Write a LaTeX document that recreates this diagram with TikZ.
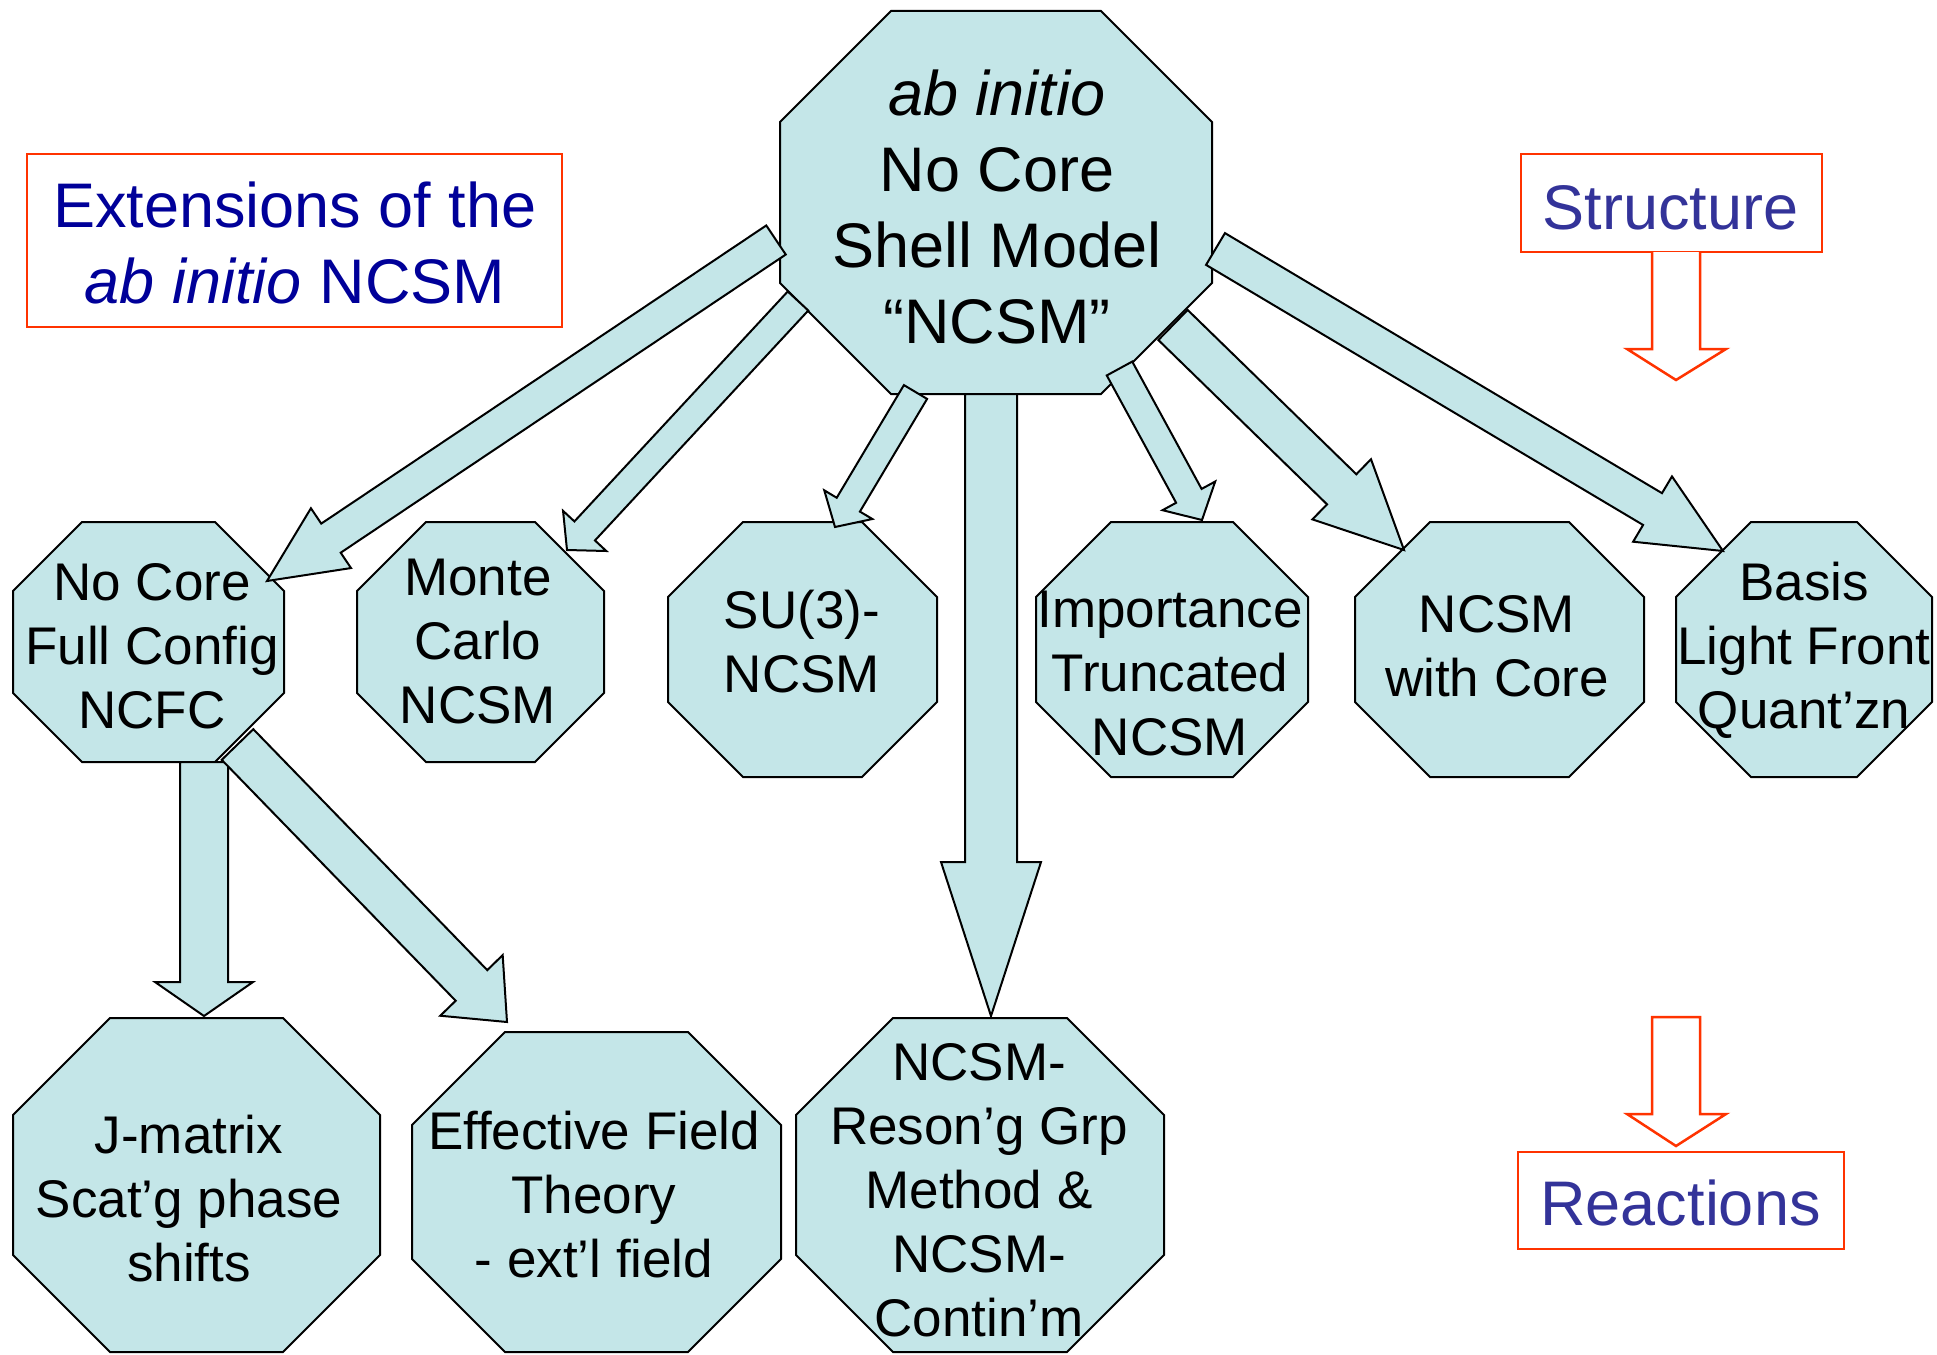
\documentclass[tikz,border=0pt]{standalone}
\usepackage{fontspec}
\setmainfont{Liberation Sans}
\usetikzlibrary{calc}
\definecolor{octfill}{HTML}{C4E6E8}
\definecolor{navyt}{HTML}{000099}
\definecolor{slatet}{HTML}{333399}
\definecolor{redline}{HTML}{FF3300}
\tikzset{
  octo/.style={draw=black, fill=octfill, line width=2pt, line join=miter},
  barrow/.style={draw=black, fill=octfill, line width=2pt, line join=miter},
  redarrow/.style={draw=redline, fill=white, line width=2.5pt, line join=miter},
  redbox/.style={draw=redline, line width=2.5pt, inner sep=0pt},
  bigtxt/.style={font=\fontsize{63}{76}\selectfont, align=center, inner sep=0pt},
  midtxt/.style={font=\fontsize{53}{64}\selectfont, align=center, inner sep=0pt},
}
\newcommand\octa[5]{%
  \draw[octo] ({#1+#5},#2) -- ({#3-#5},#2) -- (#3,{#2+#5}) -- (#3,{#4-#5})
    -- ({#3-#5},#4) -- ({#1+#5},#4) -- (#1,{#4-#5}) -- (#1,{#2+#5}) -- cycle;}
\newcommand\blockarrow[5]{%
  \coordinate (bah) at ($(#2)!#5!(#1)$);
  \draw[barrow] ($(#1)!#3!90:(#2)$) -- ($(bah)!#3!90:(#2)$) -- ($(bah)!#4!90:(#2)$)
    -- (#2) -- ($(bah)!#4!-90:(#2)$) -- ($(bah)!#3!-90:(#2)$) -- ($(#1)!#3!-90:(#2)$) -- cycle;}
\begin{document}
\begin{tikzpicture}[x=1pt,y=-1pt]
\useasboundingbox (0,0) rectangle (1937,1354);
% octagons
\octa{780}{11}{1212}{394}{111}
\octa{13}{522}{284}{762}{69}
\octa{357}{522}{604}{762}{69}
\octa{668}{522}{937}{777}{75}
\octa{1036}{522}{1308}{777}{75}
\octa{1355}{522}{1644}{777}{75}
\octa{1676}{522}{1932}{777}{75}
\octa{13}{1018}{380}{1352}{97}
\octa{412}{1032}{781}{1352}{93}
\octa{796}{1018}{1164}{1352}{97}
% arrow end points
\coordinate (t1) at (776,240);   \coordinate (h1) at (267,581);
\coordinate (t2) at (798,301);   \coordinate (h2) at (567,550);
\coordinate (t3) at (915.5,392); \coordinate (h3) at (835,527);
\coordinate (t4) at (991,394);   \coordinate (h4) at (991,1016);
\coordinate (t5) at (1119.5,368.5); \coordinate (h5) at (1202,520);
\coordinate (t6) at (1173,325);  \coordinate (h6) at (1404,550);
\coordinate (t7) at (1215.5,249); \coordinate (h7) at (1723,551);
\coordinate (t8) at (204,762);   \coordinate (h8) at (204,1016);
\coordinate (t9) at (237.5,744.5); \coordinate (h9) at (507,1022);
\blockarrow{t1}{h1}{17.5pt}{36pt}{77pt}
\blockarrow{t2}{h2}{14pt}{29.5pt}{26pt}
\blockarrow{t3}{h3}{13.5pt}{28pt}{26pt}
\blockarrow{t4}{h4}{26pt}{50pt}{154pt}
\blockarrow{t5}{h5}{14.5pt}{30pt}{27.5pt}
\blockarrow{t6}{h6}{21pt}{42pt}{87pt}
\blockarrow{t7}{h7}{18.5pt}{38pt}{82pt}
\blockarrow{t8}{h8}{24pt}{49pt}{34pt}
\blockarrow{t9}{h9}{22pt}{43.5pt}{51pt}
% texts in octagons (base anchor = last line's baseline)
\node[bigtxt, anchor=base] (top) at (997,343) {\textit{ab initio}\\No Core\\Shell Model\\“NCSM”};
\node[midtxt, anchor=base] (ncfc) at (152,728) {No Core\\Full Config\\NCFC};
\node[midtxt, anchor=base] (mc) at (478,723) {Monte\\Carlo\\NCSM};
\node[midtxt, anchor=base] (su3) at (802,692) {SU(3)-\\NCSM};
\node[midtxt, anchor=base] (itn) at (1170,755) {Importance\\Truncated\\NCSM};
\node[midtxt, anchor=base] (wc) at (1497,696) {NCSM\\with Core};
\node[midtxt, anchor=base] (lf) at (1804,728) {Basis\\Light Front\\Quant’zn};
\node[midtxt, anchor=base] (jm) at (189,1281) {J-matrix\\Scat’g phase\\shifts};
\node[midtxt, anchor=base] (eft) at (594,1277) {Effective Field\\Theory\\- ext’l field};
\node[midtxt, anchor=base] (rgm) at (979,1336) {NCSM-\\Reson’g Grp\\Method \&\\NCSM-\\Contin’m};
% labelled boxes
\node[redbox, minimum width=535pt, minimum height=173pt] (extbox) at (294.5,240.5) {};
\node[bigtxt, text=navyt, anchor=base] (ext) at (295,303) {Extensions of the\\\textit{ab initio} NCSM};
\node[redbox, minimum width=301pt, minimum height=98pt] (strbox) at (1671.5,203) {};
\node[bigtxt, text=slatet, anchor=base] (str) at (1670.5,229) {Structure};
\node[redbox, minimum width=326pt, minimum height=97pt] (reabox) at (1681,1200.5) {};
\node[bigtxt, text=slatet, anchor=base] (rea) at (1680.5,1225) {Reactions};
% red arrows
\coordinate (stip) at (1676,380);
\coordinate (rtip) at (1676,1146);
\draw[redarrow] (1652,252) -- (1652,349) -- (1627,349) -- (stip) -- (1726,349) -- (1700,349) -- (1700,252);
\draw[redarrow] (1652,1017) -- (1652,1114) -- (1627,1114) -- (rtip) -- (1726,1114) -- (1700,1114) -- (1700,1017) -- cycle;
\end{tikzpicture}
\end{document}
